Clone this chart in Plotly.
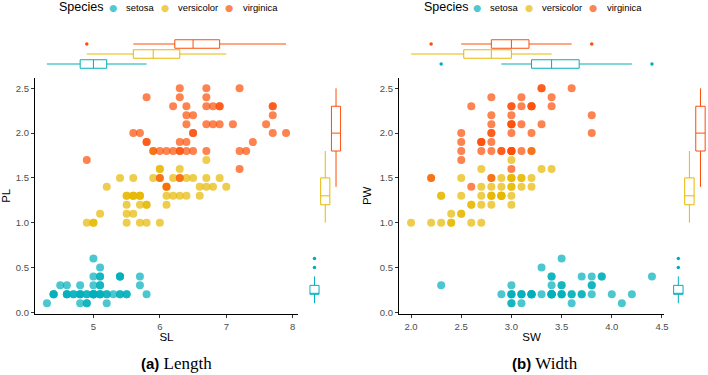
import numpy as np
import plotly.graph_objects as go

# ---------------- data (iris) ----------------
species = ["setosa", "versicolor", "virginica"]
colors = ["#00AFBB", "#E7B800", "#FC4E07"]
legend_title = "Species"

setosa_SL = [5.1,4.9,4.7,4.6,5.0,5.4,4.6,5.0,4.4,4.9,5.4,4.8,4.8,4.3,5.8,5.7,5.4,5.1,5.7,5.1,
             5.4,5.1,4.6,5.1,4.8,5.0,5.0,5.2,5.2,4.7,4.8,5.4,5.2,5.5,4.9,5.0,5.5,4.9,4.4,5.1,
             5.0,4.5,4.4,5.0,5.1,4.8,5.1,4.6,5.3,5.0]
setosa_SW = [3.5,3.0,3.2,3.1,3.6,3.9,3.4,3.4,2.9,3.1,3.7,3.4,3.0,3.0,4.0,4.4,3.9,3.5,3.8,3.8,
             3.4,3.7,3.6,3.3,3.4,3.0,3.4,3.5,3.4,3.2,3.1,3.4,4.1,4.2,3.1,3.2,3.5,3.6,3.0,3.4,
             3.5,2.3,3.2,3.5,3.8,3.0,3.8,3.2,3.7,3.3]
setosa_PW = [0.2,0.2,0.2,0.2,0.2,0.4,0.3,0.2,0.2,0.1,0.2,0.2,0.1,0.1,0.2,0.4,0.4,0.3,0.3,0.3,
             0.2,0.4,0.2,0.5,0.2,0.2,0.4,0.2,0.2,0.2,0.2,0.4,0.1,0.2,0.2,0.2,0.2,0.1,0.2,0.2,
             0.3,0.3,0.2,0.6,0.4,0.3,0.2,0.2,0.2,0.2]

versicolor_SL = [7.0,6.4,6.9,5.5,6.5,5.7,6.3,4.9,6.6,5.2,5.0,5.9,6.0,6.1,5.6,6.7,5.6,5.8,6.2,5.6,
                 5.9,6.1,6.3,6.1,6.4,6.6,6.8,6.7,6.0,5.7,5.5,5.5,5.8,6.0,5.4,6.0,6.7,6.3,5.6,5.5,
                 5.5,6.1,5.8,5.0,5.6,5.7,5.7,6.2,5.1,5.7]
versicolor_SW = [3.2,3.2,3.1,2.3,2.8,2.8,3.3,2.4,2.9,2.7,2.0,3.0,2.2,2.9,2.9,3.1,3.0,2.7,2.2,2.5,
                 3.2,2.8,2.5,2.8,2.9,3.0,2.8,3.0,2.9,2.6,2.4,2.4,2.7,2.7,3.0,3.4,3.1,2.3,3.0,2.5,
                 2.6,3.0,2.6,2.3,2.7,3.0,2.9,2.9,2.5,2.8]
versicolor_PW = [1.4,1.5,1.5,1.3,1.5,1.3,1.6,1.0,1.3,1.4,1.0,1.5,1.0,1.4,1.3,1.4,1.5,1.0,1.5,1.1,
                 1.8,1.3,1.5,1.2,1.3,1.4,1.4,1.7,1.5,1.0,1.1,1.0,1.2,1.6,1.5,1.6,1.5,1.3,1.3,1.3,
                 1.2,1.4,1.2,1.0,1.3,1.2,1.3,1.3,1.1,1.3]

virginica_SL = [6.3,5.8,7.1,6.3,6.5,7.6,4.9,7.3,6.7,7.2,6.5,6.4,6.8,5.7,5.8,6.4,6.5,7.7,7.7,6.0,
                6.9,5.6,7.7,6.3,6.7,7.2,6.2,6.1,6.4,7.2,7.4,7.9,6.4,6.3,6.1,7.7,6.3,6.4,6.0,6.9,
                6.7,6.9,5.8,6.8,6.7,6.7,6.3,6.5,6.2,5.9]
virginica_SW = [3.3,2.7,3.0,2.9,3.0,3.0,2.5,2.9,2.5,3.6,3.2,2.7,3.0,2.5,2.8,3.2,3.0,3.8,2.6,2.2,
                3.2,2.8,2.8,2.7,3.3,3.2,2.8,3.0,2.8,3.0,2.8,3.8,2.8,2.8,2.6,3.0,3.4,3.1,3.0,3.1,
                3.1,3.1,2.7,3.2,3.3,3.0,2.5,3.0,3.4,3.0]
virginica_PW = [2.5,1.9,2.1,1.8,2.2,2.1,1.7,1.8,1.8,2.5,2.0,1.9,2.1,2.0,2.4,2.3,1.8,2.2,2.3,1.5,
                2.3,2.0,2.0,1.8,2.1,1.8,1.8,1.8,2.1,1.6,1.9,2.0,2.2,1.5,1.4,2.3,2.4,1.8,1.8,2.1,
                2.4,2.3,1.9,2.3,2.5,2.3,1.9,2.0,2.3,1.8]

SL = [setosa_SL, versicolor_SL, virginica_SL]
SW = [setosa_SW, versicolor_SW, virginica_SW]
PW = [setosa_PW, versicolor_PW, virginica_PW]

x_ticks_left = [5, 6, 7, 8]
x_ticks_right = [2.0, 2.5, 3.0, 3.5, 4.0, 4.5]
y_ticks = [0.0, 0.5, 1.0, 1.5, 2.0, 2.5]

# ---------------- helpers ----------------
W, H = 708, 375
def px_x(a, b):
    return [a / W, b / W]
def px_y(top, bottom):
    return [1 - bottom / H, 1 - top / H]

def expand(vals_list, mult=0.05):
    allv = np.concatenate([np.asarray(v, float) for v in vals_list])
    lo, hi = allv.min(), allv.max()
    d = (hi - lo) * mult
    return [lo - d, hi + d]

def box_stats(v):
    v = np.asarray(v, float)
    q1, med, q3 = np.percentile(v, [25, 50, 75])
    iqr = q3 - q1
    lo_lim, hi_lim = q1 - 1.5 * iqr, q3 + 1.5 * iqr
    inside = v[(v >= lo_lim) & (v <= hi_lim)]
    out = v[(v < lo_lim) | (v > hi_lim)]
    return q1, med, q3, inside.min(), inside.max(), np.unique(out)

def rgba(hexc, a):
    h = hexc.lstrip("#")
    return f"rgba({int(h[0:2],16)},{int(h[2:4],16)},{int(h[4:6],16)},{a})"

fig = go.Figure()

FONT = "Liberation Sans"
BOXW = 0.85
ALPHA = 0.7

panels = [
    (SL, "x", "y", "x3", "y3", "x4", "y4"),
    (SW, "x2", "y2", "x5", "y5", "x6", "y6"),
]

for xdata, mx, my, tx, ty, rx, ry in panels:
    for i, sp in enumerate(species):
        fig.add_trace(go.Scatter(
            x=xdata[i], y=PW[i], mode="markers", name=sp,
            xaxis=mx, yaxis=my,
            marker=dict(color=colors[i], size=8, opacity=ALPHA, line=dict(width=0)),
            showlegend=False,
        ))
    for i, sp in enumerate(species):
        q1, med, q3, lf, uf, out = box_stats(xdata[i])
        fig.add_trace(go.Box(
            y=[i + 1], q1=[q1], median=[med], q3=[q3], lowerfence=[lf], upperfence=[uf],
            orientation="h", width=BOXW, whiskerwidth=0, name=sp,
            line=dict(color=colors[i], width=1), fillcolor="rgba(255,255,255,0)",
            xaxis=tx, yaxis=ty, showlegend=False, hoverinfo="skip",
        ))
        if len(out):
            fig.add_trace(go.Scatter(
                x=out, y=[i + 1] * len(out), mode="markers", xaxis=tx, yaxis=ty,
                marker=dict(color=colors[i], size=3.5), showlegend=False, hoverinfo="skip"))
    for i, sp in enumerate(species):
        q1, med, q3, lf, uf, out = box_stats(PW[i])
        fig.add_trace(go.Box(
            x=[i + 1], q1=[q1], median=[med], q3=[q3], lowerfence=[lf], upperfence=[uf],
            width=BOXW, whiskerwidth=0, name=sp,
            line=dict(color=colors[i], width=1), fillcolor="rgba(255,255,255,0)",
            xaxis=rx, yaxis=ry, showlegend=False, hoverinfo="skip",
        ))
        if len(out):
            fig.add_trace(go.Scatter(
                x=[i + 1] * len(out), y=out, mode="markers", xaxis=rx, yaxis=ry,
                marker=dict(color=colors[i], size=3.5), showlegend=False, hoverinfo="skip"))

xr_left = expand(SL)
xr_right = expand(SW)
yr = expand(PW)

main_y_dom = px_y(77.6, 314)
top_y_dom = px_y(39, 69)

def main_axis(dom, rng, ticks, title, anchor, standoff, fmt=".1f"):
    return dict(
        domain=dom, range=rng, anchor=anchor, tickvals=ticks, tickformat=fmt,
        showline=True, linecolor="black", linewidth=1.2, mirror=False,
        ticks="outside", ticklen=3, tickwidth=1, tickcolor="#333333",
        showgrid=False, zeroline=False, automargin=False,
        tickfont=dict(family=FONT, size=9.5, color="#4D4D4D"),
        title=dict(text=title, font=dict(family=FONT, size=11.5, color="black"), standoff=standoff),
    )

def hidden(dom, rng, anchor):
    return dict(domain=dom, range=rng, visible=False, anchor=anchor, automargin=False)

fig.update_layout(
    xaxis=main_axis(px_x(35, 298), xr_left, x_ticks_left, "SL", "y", 2, "d"),
    yaxis=main_axis(main_y_dom, yr, y_ticks, "PL", "x", 5),
    xaxis2=main_axis(px_x(399, 664), xr_right, x_ticks_right, "SW", "y2", 2),
    yaxis2=main_axis(main_y_dom, yr, y_ticks, "PW", "x2", 5),
    xaxis3=hidden(px_x(35, 298), xr_left, "y3"),
    yaxis3=hidden(top_y_dom, [0.5, 3.5], "x3"),
    xaxis4=hidden(px_x(309.1, 341.4), [0.5, 3.5], "y4"),
    yaxis4=hidden(main_y_dom, yr, "x4"),
    xaxis5=hidden(px_x(399, 664), xr_right, "y5"),
    yaxis5=hidden(top_y_dom, [0.5, 3.5], "x5"),
    xaxis6=hidden(px_x(672.8, 706), [0.5, 3.5], "y6"),
    yaxis6=hidden(main_y_dom, yr, "x6"),
)

# ---------------- legends (one per panel, as in the figure) ----------------
LEG_Y = 1 - 7 / H
legend_layout = [
    (58, [(113, 125), (165, 177), (229, 241.7)]),
    (422.7, [(476.7, 489.3), (529, 541), (593.3, 606)]),
]
for title_x, items in legend_layout:
    fig.add_annotation(x=title_x / W, y=LEG_Y, xref="paper", yref="paper", showarrow=False,
                       xanchor="left", yanchor="middle", text=legend_title, borderpad=0,
                       font=dict(family=FONT, size=12.5, color="black"))
    for i, (cx, tx) in enumerate(items):
        fig.add_annotation(x=cx / W, y=LEG_Y, xref="paper", yref="paper", showarrow=False,
                           xanchor="center", yanchor="middle", text="\u25CF", borderpad=0,
                           font=dict(family="DejaVu Sans", size=9.5, color=rgba(colors[i], ALPHA)))
        fig.add_annotation(x=tx / W, y=LEG_Y, xref="paper", yref="paper", showarrow=False,
                           xanchor="left", yanchor="middle", text=species[i], borderpad=0,
                           font=dict(family=FONT, size=9.4, color="black"))

for cx, lab, word in [(176, "(a)", "Length"), (545, "(b)", "Width")]:
    fig.add_annotation(
        x=cx / W, y=1 - 363 / H, xref="paper", yref="paper", showarrow=False,
        xanchor="center", yanchor="middle",
        text=f"<b>{lab}</b> <span style='font-family:Liberation Serif;font-size:17px'>{word}</span>",
        font=dict(family=FONT, size=15, color="black"),
    )

fig.update_layout(
    width=W, height=H, margin=dict(l=0, r=0, t=0, b=0), showlegend=False,
    paper_bgcolor="white", plot_bgcolor="white", boxgap=0, boxgroupgap=0,
)

fig.write_html(
    "out.html",
    config={"displayModeBar": False},
    post_script="document.body.style.margin='0';document.body.style.overflow='hidden';",
)
